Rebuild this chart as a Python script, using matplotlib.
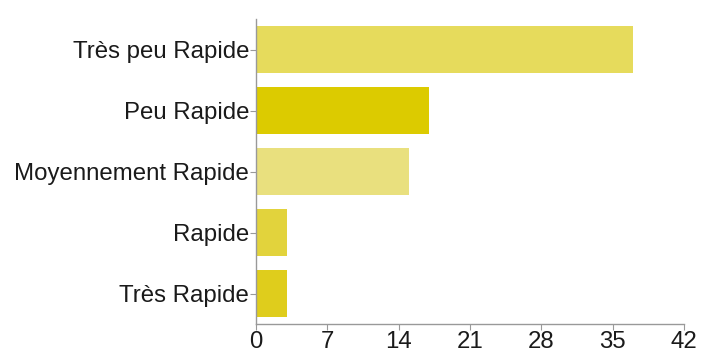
import matplotlib
matplotlib.use("Agg")
import matplotlib.pyplot as plt

categories = ["Très peu Rapide", "Peu Rapide", "Moyennement Rapide", "Rapide", "Très Rapide"]
counts = [37, 17, 15, 3, 3]
colors = ["#e6db5c", "#dccb00", "#e9e07e", "#e2d33c", "#dfcd1c"]
xticks = [0, 7, 14, 21, 28, 35, 42]

plt.rcParams['font.family'] = ['Liberation Sans', 'DejaVu Sans']

fig = plt.figure(figsize=(7.01, 3.56), dpi=100)
ax = fig.add_axes([256 / 701, 32 / 356, 428 / 701, 305 / 356])

pos = list(range(len(categories)))
ax.barh(pos, counts, height=0.78, color=colors)
ax.set_ylim(len(categories) - 0.5, -0.5)
ax.set_xlim(0, 42)
ax.set_xticks(xticks)
ax.set_yticks(pos)
ax.set_yticklabels(categories)

for s in ["top", "right"]:
    ax.spines[s].set_visible(False)
for s in ["left", "bottom"]:
    ax.spines[s].set_color("#999999")
    ax.spines[s].set_linewidth(1)
ax.tick_params(axis="both", colors="#999999", length=4, labelcolor="#1a1a1a", labelsize=17.3)
ax.tick_params(axis="y", pad=1)
ax.tick_params(axis="x", pad=1)

fig.savefig("out.png", dpi=100)
